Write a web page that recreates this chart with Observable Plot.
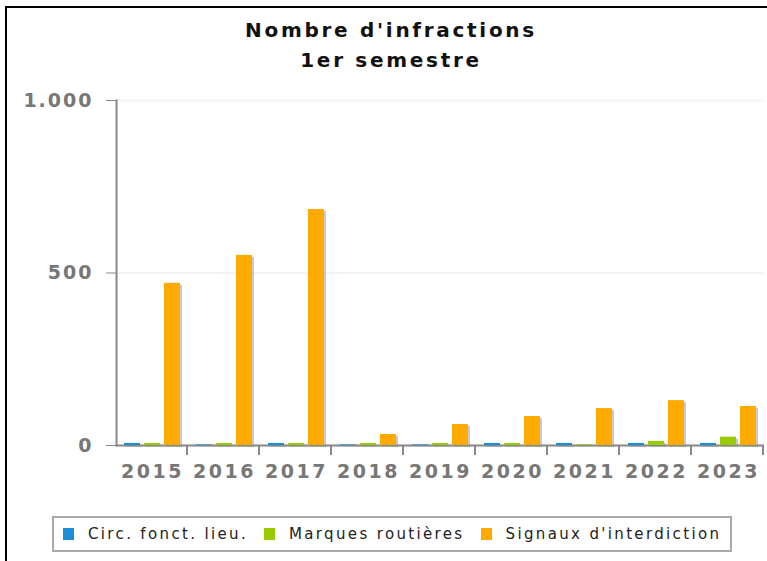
<!DOCTYPE html>
<html><head><meta charset="utf-8">
<script src="https://cdn.jsdelivr.net/npm/d3@7"></script>
<script src="https://cdn.jsdelivr.net/npm/@observablehq/plot@0.6"></script>
<style>
body{margin:0;background:#fff;}
#wrap{position:relative;width:767px;height:561px;overflow:hidden;font-family:"DejaVu Sans",sans-serif;}
#border{position:absolute;left:5px;top:6px;width:800px;height:600px;border-top:2px solid #000;border-left:2px solid #000;}
#title{position:absolute;left:141px;width:500px;top:15px;text-align:center;font-weight:bold;font-size:20px;line-height:30px;letter-spacing:2.7px;color:#111;}
#chart{position:absolute;left:0;top:0;}
#legend{position:absolute;left:52px;top:516px;width:676px;height:32px;border:2px solid #aaa;display:flex;align-items:center;font-size:15px;letter-spacing:2.35px;color:#222;white-space:nowrap;}
.item{display:flex;align-items:center;margin-right:16px;flex-shrink:0;}
.item:first-child{margin-left:9px;}
.sw{width:11px;height:12px;margin-right:14px;flex-shrink:0;}
svg g[aria-label="y-axis tick label"] text{font-weight:bold;font-size:19px;fill:#777;letter-spacing:2px;}
svg g[aria-label="fx-axis tick label"] text{font-weight:bold;font-size:19px;fill:#777;letter-spacing:2.5px;}
svg line{stroke-width:2px;}
svg g[aria-label="y-grid"]{stroke:#e2e2e2;stroke-opacity:1;}
</style>
</head><body>
<div id="wrap">
  <div id="border"></div>
  <div id="title">Nombre d'infractions<br>1er semestre</div>
  <div id="chart"></div>
  <div id="legend"></div>
</div>
<script>
const years = ["2015","2016","2017","2018","2019","2020","2021","2022","2023"];
const series = ["Circ. fonct. lieu.", "Marques routières", "Signaux d'interdiction"];
const circ = [6, 2, 6, 2, 2, 6, 6, 6, 6];
const marques = [6, 6, 6, 6, 6, 6, 2, 12, 24];
const signaux = [470, 551, 684, 32, 61, 84, 107, 130, 113];
const colors = ["#1a8fd8", "#99cc00", "#ffaa00"];
const yTicks = [0, 500, 1000];

const data = [];
years.forEach((y, i) => {
  data.push({year: y, series: series[0], value: circ[i]});
  data.push({year: y, series: series[1], value: marques[i]});
  data.push({year: y, series: series[2], value: signaux[i]});
});

const chart = Plot.plot({
  width: 767,
  height: 561,
  marginTop: 100,
  marginBottom: 116,
  marginLeft: 115,
  marginRight: 3,
  style: {fontFamily: "DejaVu Sans, sans-serif", background: "transparent", overflow: "visible", color: "#888"},
  fx: {domain: years, padding: 0, label: null, tickSize: 0, tickPadding: 19},
  x: {domain: series, paddingInner: 0.19, paddingOuter: 0.31, axis: null},
  y: {domain: [0, 1000], ticks: yTicks, tickSize: 10, tickPadding: 13, line: true, grid: true, label: null,
      tickFormat: d => d3.format(",")(d).replace(/,/g, ".")},
  color: {domain: series, range: colors},
  marks: [
    Plot.barY(data, {fx: "year", x: "series", y: "value", fill: "#888", fillOpacity: 0.45, dx: 2, dy: 2}),
    Plot.ruleY([0], {stroke: "#888", strokeWidth: 2}),
    Plot.ruleX(years, {fx: d => d, x: () => series[2], y1: 0, y2: -29, dx: 14.5, stroke: "#888", strokeWidth: 2}),
    Plot.barY(data, {fx: "year", x: "series", y: "value", fill: "series"})
  ]
});
document.getElementById("chart").appendChild(chart);

const legend = document.getElementById("legend");
series.forEach((s, i) => {
  const it = document.createElement("div");
  it.className = "item";
  it.innerHTML = `<div class="sw" style="background:${colors[i]}"></div><span>${s}</span>`;
  legend.appendChild(it);
});
</script>
</body></html>
